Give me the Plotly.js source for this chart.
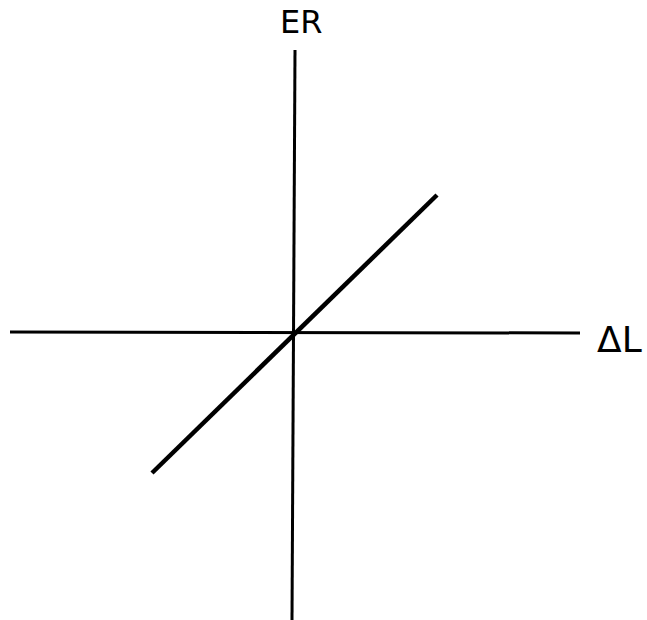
<!DOCTYPE html>
<html>
<head>
<meta charset="utf-8">
<script src="https://cdn.plot.ly/plotly-3.0.1.min.js"></script>
<style>html,body{margin:0;padding:0;background:#fff;}#chart{width:647px;height:620px;}</style>
</head>
<body>
<div id="chart"></div>
<script>
// Schematic: ER vs ΔL (origin at axes crossing)
const horizAxisX = [-285, 285];
const horizAxisY = [1, 0];
const vertAxisX = [0, -3];
const vertAxisY = [283, -287];
const relationX = [-143, 142];
const relationY = [-140, 138];
const yLabel = "ER";
const xLabel = "ΔL";

const traces = [
  {x: horizAxisX, y: horizAxisY, mode: "lines", line: {color: "#000", width: 3}, hoverinfo: "skip"},
  {x: vertAxisX, y: vertAxisY, mode: "lines", line: {color: "#000", width: 3}, hoverinfo: "skip"},
  {x: relationX, y: relationY, mode: "lines", line: {color: "#000", width: 4.5}, hoverinfo: "skip"}
];

const layout = {
  width: 647, height: 620,
  margin: {l: 0, r: 0, t: 0, b: 0},
  paper_bgcolor: "#fff", plot_bgcolor: "#fff",
  showlegend: false,
  xaxis: {range: [-295, 352], visible: false, fixedrange: true},
  yaxis: {range: [-287, 333], visible: false, fixedrange: true},
  annotations: [
    {x: 5.5, y: 311, xref: "x", yref: "y", text: yLabel, showarrow: false,
     font: {family: "DejaVu Sans", size: 32, color: "#000"}, xanchor: "center", yanchor: "middle"},
    {x: 324, y: -6, xref: "x", yref: "y", text: xLabel, showarrow: false,
     font: {family: "DejaVu Sans", size: 36, color: "#000"}, xanchor: "center", yanchor: "middle"}
  ]
};

Plotly.newPlot("chart", traces, layout, {displayModeBar: false, staticPlot: true});
</script>
</body>
</html>
